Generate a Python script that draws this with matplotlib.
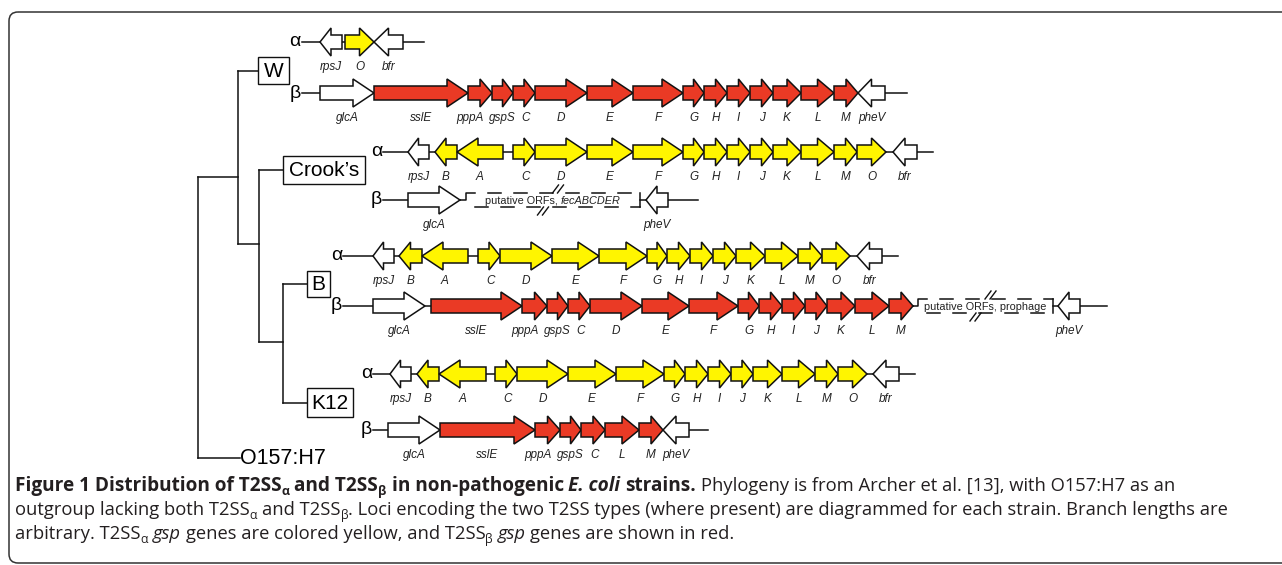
import matplotlib.pyplot as plt
from matplotlib.patches import Polygon, FancyBboxPatch, Rectangle
from matplotlib.font_manager import FontProperties

# ---- loci: gene names with start / end along each row (px) ----
w_alpha_genes = ['rpsJ', 'O', 'bfr']
w_alpha_start = [320, 345, 374]
w_alpha_end = [342, 374, 403]
w_alpha_line = [(302, 424)]

w_beta_genes = ['glcA', 'sslE', 'pppA', 'gspS', 'C', 'D', 'E', 'F', 'G', 'H', 'I', 'J', 'K', 'L', 'M', 'pheV']
w_beta_start = [320, 374, 468, 492, 513, 535, 587, 633, 683, 704, 727, 750, 773, 801, 834, 858]
w_beta_end = [374, 468, 492, 513, 535, 587, 633, 683, 704, 727, 750, 773, 801, 834, 858, 885]
w_beta_line = [(302, 907)]

crooks_alpha_genes = ['rpsJ', 'B', 'A', 'C', 'D', 'E', 'F', 'G', 'H', 'I', 'J', 'K', 'L', 'M', 'O', 'bfr']
crooks_alpha_start = [408, 435, 457, 513, 535, 587, 633, 683, 704, 727, 750, 773, 801, 834, 857, 893]
crooks_alpha_end = [429, 457, 503, 535, 587, 633, 683, 704, 727, 750, 773, 801, 834, 857, 886, 917]
crooks_alpha_line = [(383, 933)]

crooks_beta_genes = ['glcA', 'pheV']
crooks_beta_start = [408, 646]
crooks_beta_end = [460, 668]
crooks_beta_line = [(383, 460), (640, 698)]
crooks_beta_gap = (460, 466, 640)   # gene tip, step, bar
crooks_beta_gap_text = [('putative ORFs, ', 'normal'), ('fecABCDER', 'italic')]

b_alpha_genes = ['rpsJ', 'B', 'A', 'C', 'D', 'E', 'F', 'G', 'H', 'I', 'J', 'K', 'L', 'M', 'O', 'bfr']
b_alpha_start = [373, 399, 422, 478, 500, 552, 599, 647, 667, 690, 713, 736, 765, 798, 822, 857]
b_alpha_end = [394, 422, 468, 500, 552, 599, 647, 667, 690, 713, 736, 765, 798, 822, 850, 882]
b_alpha_line = [(343, 898)]

b_beta_genes = ['glcA', 'sslE', 'pppA', 'gspS', 'C', 'D', 'E', 'F', 'G', 'H', 'I', 'J', 'K', 'L', 'M', 'pheV']
b_beta_start = [373, 431, 522, 547, 568, 590, 642, 689, 738, 759, 782, 805, 827, 855, 889, 1058]
b_beta_end = [425, 522, 547, 568, 590, 642, 689, 738, 759, 782, 805, 827, 855, 889, 913, 1080]
b_beta_line = [(343, 913), (1053, 1107)]
b_beta_gap = (913, 918, 1053)
b_beta_gap_text = [('putative ORFs, prophage', 'normal')]

k12_alpha_genes = ['rpsJ', 'B', 'A', 'C', 'D', 'E', 'F', 'G', 'H', 'I', 'J', 'K', 'L', 'M', 'O', 'bfr']
k12_alpha_start = [390, 417, 439, 495, 517, 568, 616, 664, 685, 708, 731, 753, 782, 815, 838, 873]
k12_alpha_end = [411, 439, 486, 517, 568, 616, 664, 685, 708, 731, 753, 782, 815, 838, 867, 899]
k12_alpha_line = [(373, 915)]

k12_beta_genes = ['glcA', 'sslE', 'pppA', 'gspS', 'C', 'L', 'M', 'pheV']
k12_beta_start = [388, 440, 535, 560, 581, 605, 639, 663]
k12_beta_end = [440, 535, 560, 581, 605, 639, 663, 689]
k12_beta_line = [(373, 708)]

left_pointing = {'rpsJ', 'B', 'A', 'bfr', 'pheV'}
flanking = {'rpsJ', 'bfr', 'glcA', 'pheV'}
label_shift = {'pppA': -10, 'C': 2}

strains = ['W', 'Crook\u2019s', 'B', 'K12']

YELLOW = '#FFF500'
RED = '#EA3A25'
EDGE = '#111111'
LBL = 'Liberation Sans'
CAP = 'Open Sans'

fig = plt.figure(figsize=(12.82, 5.65), dpi=100)
ax = fig.add_axes([0, 0, 1, 1])
ax.set_xlim(0, 1282)
ax.set_ylim(565, 0)
ax.axis('off')
renderer = fig.canvas.get_renderer()


def text_width(s, fp):
    w1 = renderer.get_text_width_height_descent('|' + s + '|', fp, ismath=False)[0]
    w0 = renderer.get_text_width_height_descent('||', fp, ismath=False)[0]
    return w1 - w0


def draw_gene(x0, x1, y, face, left):
    L = x1 - x0
    head = min(0.5 * L, 21)
    bh, hh = 7, 14
    if left:
        pts = [(x1, y - bh), (x0 + head, y - bh), (x0 + head, y - hh), (x0, y),
               (x0 + head, y + hh), (x0 + head, y + bh), (x1, y + bh)]
    else:
        pts = [(x0, y - bh), (x1 - head, y - bh), (x1 - head, y - hh), (x1, y),
               (x1 - head, y + hh), (x1 - head, y + bh), (x0, y + bh)]
    ax.add_patch(Polygon(pts, closed=True, facecolor=face, edgecolor=EDGE,
                         lw=1.1, joinstyle='miter', zorder=3))


def draw_row(genes, start, end, lines, y, color, greek):
    for x0, x1 in lines:
        ax.plot([x0, x1], [y, y], color=EDGE, lw=1.1, zorder=1)
    ax.text(lines[0][0] - 1, y, greek, family=LBL, fontsize=14, ha='right', va='center')
    for g, x0, x1 in zip(genes, start, end):
        face = 'white' if g in flanking else color
        draw_gene(x0, x1, y, face, g in left_pointing)
        ax.text((x0 + x1) / 2 + label_shift.get(g, 0), y + 25, g, family=LBL,
                fontsize=8.5, style='italic', ha='center', va='center', color='#222222')


def draw_gap(gap, y, pieces):
    tip, xa, bar = gap
    kw = dict(color=EDGE, lw=1.1, zorder=1)
    ax.plot([tip, xa, xa, xa + 9], [y, y, y - 7, y - 7], **kw)
    x, top = xa + 9, False
    while x < bar - 1:
        x2 = min(x + 13, bar)
        yy = y - 7 if top else y + 7
        ax.plot([x, x2], [yy, yy], **kw)
        x, top = x2, not top
    ax.plot([bar, bar], [y + 7, y - 7], **kw)
    mid = (xa + bar) / 2
    for cx, cy in [(mid + 5, y - 11), (mid - 10, y + 11)]:
        for dx in (-2.5, 2.5):
            ax.plot([cx + dx - 3, cx + dx + 3], [cy + 4, cy - 4], color=EDGE, lw=1.0, zorder=2)
    fps = [FontProperties(family=LBL, size=7.8, style=st) for _, st in pieces]
    total = sum(text_width(s, fp) for (s, _), fp in zip(pieces, fps))
    x = mid - total / 2
    for (s, _), fp in zip(pieces, fps):
        ax.text(x, y + 1, s, fontproperties=fp, ha='left', va='center', color='#222222', zorder=4)
        x += text_width(s, fp)


# ---- frame ----
ax.add_patch(FancyBboxPatch((9, 12), 1320, 551, boxstyle='round,pad=0,rounding_size=9',
                            facecolor='none', edgecolor='#333333', lw=1.1, zorder=0))

# ---- phylogeny ----
tk = dict(color=EDGE, lw=1.1, zorder=1)
ax.plot([198, 198], [177, 458], **tk)
ax.plot([198, 240], [458, 458], **tk)
ax.plot([198, 238], [177, 177], **tk)
ax.plot([238, 238], [71, 244], **tk)
ax.plot([238, 258], [71, 71], **tk)
ax.plot([238, 259], [244, 244], **tk)
ax.plot([259, 259], [170, 342], **tk)
ax.plot([259, 283], [170, 170], **tk)
ax.plot([259, 283], [342, 342], **tk)
ax.plot([283, 283], [284, 403], **tk)
ax.plot([283, 307], [284, 284], **tk)
ax.plot([283, 307], [403, 403], **tk)

boxes = [(258, 57, 31, 27), (283, 156, 82, 28), (307, 271, 23, 26), (307, 388, 46, 29)]
for name, (bx, by, bw, bhh) in zip(strains, boxes):
    ax.add_patch(Rectangle((bx, by), bw, bhh, facecolor='white', edgecolor=EDGE, lw=1.0, zorder=2))
    ax.text(bx + bw / 2, by + bhh / 2 + 1, name, family=LBL, fontsize=15, ha='center', va='center', zorder=3)
ax.text(240, 458, 'O157:H7', family=LBL, fontsize=15.5, ha='left', va='center')

# ---- loci ----
draw_row(w_alpha_genes, w_alpha_start, w_alpha_end, w_alpha_line, 42, YELLOW, '\u03b1')
draw_row(w_beta_genes, w_beta_start, w_beta_end, w_beta_line, 93, RED, '\u03b2')
draw_row(crooks_alpha_genes, crooks_alpha_start, crooks_alpha_end, crooks_alpha_line, 152, YELLOW, '\u03b1')
draw_row(crooks_beta_genes, crooks_beta_start, crooks_beta_end, crooks_beta_line, 200, RED, '\u03b2')
draw_gap(crooks_beta_gap, 200, crooks_beta_gap_text)
draw_row(b_alpha_genes, b_alpha_start, b_alpha_end, b_alpha_line, 256, YELLOW, '\u03b1')
draw_row(b_beta_genes, b_beta_start, b_beta_end, b_beta_line, 306, RED, '\u03b2')
draw_gap(b_beta_gap, 306, b_beta_gap_text)
draw_row(k12_alpha_genes, k12_alpha_start, k12_alpha_end, k12_alpha_line, 374, YELLOW, '\u03b1')
draw_row(k12_beta_genes, k12_beta_start, k12_beta_end, k12_beta_line, 430, RED, '\u03b2')

# ---- caption ----
CAP_SIZE = 13.2


def rich_line(x, y, pieces):
    for s, weight, style, sub in pieces:
        size = CAP_SIZE * (1.035 if weight == 'bold' else 1.0)
        fs = size * 0.66 if sub else size
        fp = FontProperties(family=CAP, size=fs, weight=weight, style=style)
        body = s.lstrip(' ')
        x += text_width(s[:len(s) - len(body)], fp)
        ax.text(x, y + (4 if sub else 0), body, fontproperties=fp, ha='left',
                va='baseline', color='#231f20')
        x += text_width(body, fp)


B, N, I = 'bold', 'normal', 'italic'
rich_line(15, 491, [('Figure 1 Distribution of T2SS', B, N, 0), ('\u03b1', B, N, 1),
                    (' and T2SS', B, N, 0), ('\u03b2', B, N, 1),
                    (' in non-pathogenic ', B, N, 0), ('E. coli', B, I, 0),
                    (' strains.', B, N, 0),
                    (' Phylogeny is from Archer et al. [13], with O157:H7 as an', N, N, 0)])
rich_line(15, 515, [('outgroup lacking both T2SS', N, N, 0), ('\u03b1', N, N, 1),
                    (' and T2SS', N, N, 0), ('\u03b2', N, N, 1),
                    ('. Loci encoding the two T2SS types (where present) are diagrammed '
                     'for each strain. Branch lengths are', N, N, 0)])
rich_line(15, 539, [('arbitrary. T2SS', N, N, 0), ('\u03b1', N, N, 1), (' ', N, N, 0),
                    ('gsp', N, I, 0), (' genes are colored yellow, and T2SS', N, N, 0),
                    ('\u03b2', N, N, 1), (' ', N, N, 0), ('gsp', N, I, 0),
                    (' genes are shown in red.', N, N, 0)])

fig.savefig('out.png', dpi=100)
